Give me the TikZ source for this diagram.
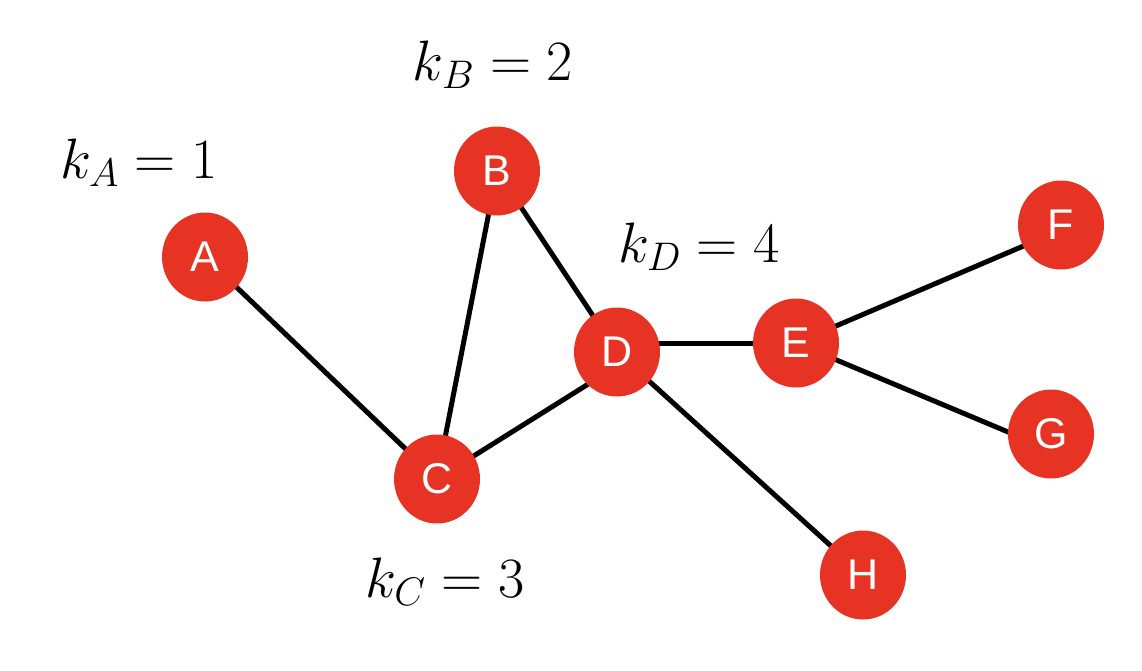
\documentclass[tikz,border=0pt]{standalone}
\usepackage{fix-cm}
\usepackage{fontspec}
\setsansfont{Liberation Sans}
\usepackage{tikz}
\usetikzlibrary{positioning,shapes.geometric,calc,backgrounds}
\definecolor{NETred}{HTML}{E63323}
\tikzset{
  vertex/.style={ellipse, fill=NETred, draw=none, minimum width=86pt, minimum height=89pt, inner sep=0pt, text=white, font=\fontsize{43}{47}\selectfont\sffamily},
  edge/.style={line width=5pt, draw=black},
  degree/.style={inner sep=0pt, anchor=base, font=\fontsize{57}{61}\selectfont}
}
\begin{document}
\begin{tikzpicture}[x=1pt, y=-1pt]
\useasboundingbox (0,0) rectangle (1142,670);
\node[vertex] (a) at (205,257) {A};
\node[vertex] (b) at (497,171) {B};
\node[vertex] (c) at (437,479) {C};
\node[vertex] (d) at (617,352) {D};
\node[vertex] (e) at (796,343) {E};
\node[vertex] (f) at (1061,225) {F};
\node[vertex] (g) at (1051,434) {G};
\node[vertex] (h) at (863,575) {H};
\begin{pgfonlayer}{background}
\draw[edge] (a.center) -- (c.center);
\draw[edge] (b.center) -- (c.center);
\draw[edge] (b.center) -- (d.center);
\draw[edge] (c.center) -- ($(d.center)+(0,14)$);
\draw[edge] (e.center) -- (d.center |- e.center);
\draw[edge] (d.center) -- (h.center);
\draw[edge] (e.center) -- ($(f.center)+(0,5)$);
\draw[edge] (e.center) -- ($(g.center)+(0,16)$);
\end{pgfonlayer}
\node[degree] (ka) at (139,178) {$k_A = 1$};
\node[degree] (kb) at (493,80) {$k_B = 2$};
\node[degree] (kd) at (699,262) {$k_D = 4$};
\node[degree] (kc) at (445,597) {$k_C = 3$};
\end{tikzpicture}
\end{document}
